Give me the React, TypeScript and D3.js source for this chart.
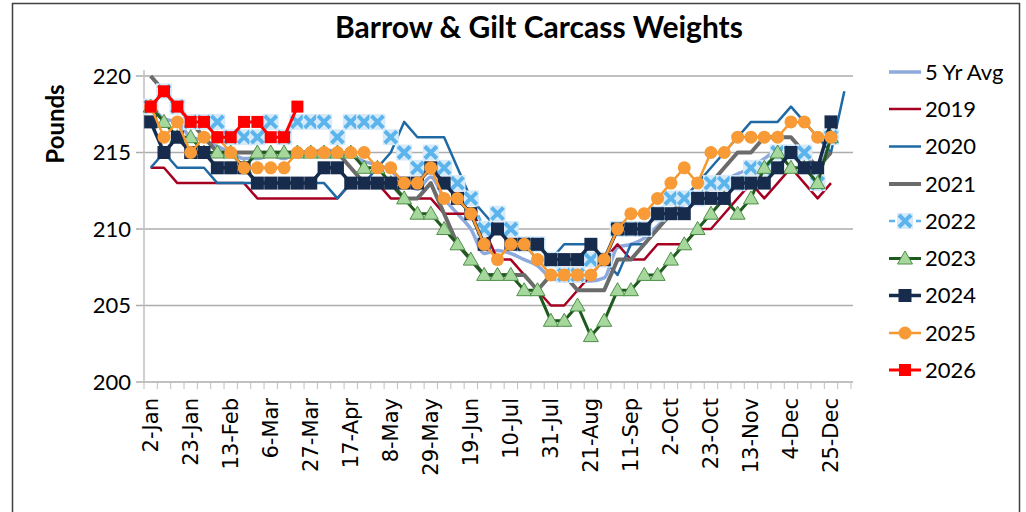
import React from 'react';
import * as d3 from 'd3';

// weekly categories, 53 weeks (2020 has a 53rd week); labels every 3rd week
const weekCount = 53;
const tickLabels = ['2-Jan', '23-Jan', '13-Feb', '6-Mar', '27-Mar', '17-Apr', '8-May', '29-May', '19-Jun',
  '10-Jul', '31-Jul', '21-Aug', '11-Sep', '2-Oct', '23-Oct', '13-Nov', '4-Dec', '25-Dec'];
const yTicks = [200, 205, 210, 215, 220];

const avg5 = [218.2, 217.2, 217.0, 216.0, 215.8, 215.4, 215.0, 214.6, 214.6, 214.8, 214.6, 215.0, 215.0, 215.2,
  215.0, 214.8, 214.4, 214.2, 213.8, 213.0, 212.6, 213.4, 212.0, 211.0, 210.0, 208.4, 208.6, 208.4, 208.0, 207.6,
  206.8, 206.6, 206.6, 206.6, 206.8, 208.8, 209.0, 209.4, 210.2, 211.0, 211.6, 211.8, 212.8, 213.2, 213.6, 214.0,
  214.6, 215.2, 215.4, 215.0, 214.0, 216.0];
const y2019 = [214, 214, 213, 213, 213, 213, 213, 213, 212, 212, 212, 212, 212, 212, 212, 213, 213, 213, 212, 212,
  212, 212, 211, 211, 211, 210, 208, 208, 207, 206, 205, 205, 206, 207, 208, 209, 208, 208, 209, 209, 209, 210, 210,
  211, 212, 213, 212, 213, 214, 213, 212, 213];
const y2020 = [214, 215, 214, 214, 214, 213, 213, 213, 213, 213, 213, 213, 213, 213, 212, 213, 213, 214, 215, 217,
  216, 216, 216, 214, 212, 211, 210, 209, 209, 208, 208, 209, 209, 209, 208, 207, 209, 209, 210, 211, 212, 213, 214,
  215, 216, 217, 217, 217, 218, 217, 216, 215, 219];
const y2021 = [220, 219, 218, 217, 216, 215, 215, 215, 215, 215, 215, 215, 215, 215, 215, 214, 213, 213, 213, 212,
  212, 213, 211, 209, 208, 207, 207, 207, 207, 206, 207, 207, 206, 206, 206, 208, 208, 209, 210, 211, 212, 212, 213,
  214, 215, 215, 216, 216, 216, 215, 214, 215];
const y2022 = [218, 219, 218, 217, 217, 217, 216, 216, 216, 217, 216, 217, 217, 217, 216, 217, 217, 217, 216, 215,
  214, 215, 214, 213, 212, 210, 211, 210, 209, 209, 208, 207, 207, 208, 208, 210, 210, 210, 211, 212, 212, 212, 213,
  213, 213, 214, 214, 215, 215, 215, 213, 216];
const y2023 = [218, 217, 216, 216, 215, 215, 215, 214, 215, 215, 215, 215, 215, 215, 215, 215, 214, 214, 213, 212,
  211, 211, 210, 209, 208, 207, 207, 207, 206, 206, 204, 204, 205, 203, 204, 206, 206, 207, 207, 208, 209, 210, 211,
  212, 211, 212, 214, 215, 214, 214, 213, 216];
const y2024 = [217, 215, 216, 215, 215, 214, 214, 214, 213, 213, 213, 213, 213, 214, 214, 213, 213, 213, 213, 213,
  213, 214, 213, 212, 211, 209, 210, 209, 209, 209, 208, 208, 208, 209, 208, 210, 210, 210, 211, 211, 211, 212, 212,
  212, 213, 213, 213, 214, 215, 214, 214, 217];
const y2025 = [218, 216, 217, 215, 216, 216, 215, 214, 214, 214, 214, 215, 215, 215, 215, 215, 215, 214, 214, 213,
  213, 214, 212, 212, 211, 209, 208, 209, 209, 208, 207, 207, 207, 207, 208, 210, 211, 211, 212, 213, 214, 213, 215,
  215, 216, 216, 216, 216, 217, 217, 216, 216];
const y2026 = [218, 219, 218, 217, 217, 216, 216, 217, 217, 216, 216, 218];

type Marker = 'none' | 'x' | 'tri' | 'square' | 'circle' | 'redsq';

const series: { name: string; values: number[]; color: string; width: number; marker: Marker; dash?: string; smooth?: boolean }[] = [
  { name: '5 Yr Avg', values: avg5, color: '#8EA9DB', width: 3.5, marker: 'none', smooth: true },
  { name: '2019', values: y2019, color: '#A50021', width: 2.5, marker: 'none' },
  { name: '2020', values: y2020, color: '#1F6AA5', width: 2.5, marker: 'none' },
  { name: '2021', values: y2021, color: '#6B6B6B', width: 4, marker: 'none' },
  { name: '2022', values: y2022, color: '#5BB4EC', width: 2.5, marker: 'x', dash: '6,3' },
  { name: '2023', values: y2023, color: '#1E5A1E', width: 3, marker: 'tri' },
  { name: '2024', values: y2024, color: '#172B4D', width: 3.5, marker: 'square' },
  { name: '2025', values: y2025, color: '#F7982F', width: 2.5, marker: 'circle' },
  { name: '2026', values: y2026, color: '#FF0000', width: 3, marker: 'redsq' },
];

const W = 1026;
const H = 512;
const plot = { left: 144, right: 851, top: 76, bottom: 382 };

const x = d3.scaleBand<number>().domain(d3.range(weekCount)).range([plot.left, plot.right]).padding(0);
const cx = (i: number) => (x(i) as number) + x.bandwidth() / 2;
const y = d3.scaleLinear().domain([200, 220]).range([plot.bottom, plot.top]);

const drawMarker = (m: Marker, px: number, py: number, key: string | number) => {
  switch (m) {
    case 'x':
      return (
        <g key={key} transform={`translate(${px},${py})`}>
          <rect x={-8} y={-8} width={16} height={16} fill="#D6EAF9" />
          <path d="M-6,-6L6,6M-6,6L6,-6" stroke="#5BB4EC" strokeWidth={4} />
        </g>
      );
    case 'tri':
      return <path key={key} d={`M${px},${py - 7.5}L${px + 7.5},${py + 5.5}L${px - 7.5},${py + 5.5}Z`} fill="#A6D89E" stroke="#4E8F47" strokeWidth={1} />;
    case 'square':
      return <rect key={key} x={px - 6.5} y={py - 6.5} width={13} height={13} fill="#172B4D" />;
    case 'circle':
      return <circle key={key} cx={px} cy={py} r={6.5} fill="#F89A35" />;
    case 'redsq':
      return <rect key={key} x={px - 6} y={py - 6} width={12} height={12} fill="#FF0000" />;
    default:
      return null;
  }
};

const legendRows = [72, 109, 146.5, 184, 221, 258.5, 295.5, 333, 370];

export default function App() {
  return (
    <svg width={W} height={H} style={{ position: 'absolute', left: 0, top: 0, background: '#fff' }}>
      {/* chart border */}
      <path d={`M12.5,${H}V3.5H1019.5V${H}`} fill="none" stroke="#404040" strokeWidth={1.5} />

      <text x={539} y={38} textAnchor="middle" fontFamily="Lato, sans-serif" fontWeight="bold" fontSize={30} fill="#000">
        Barrow &amp; Gilt Carcass Weights
      </text>

      {/* grid + y axis */}
      {yTicks.map((t) => (
        <g key={t}>
          <line x1={plot.left - 8} x2={plot.right + 2} y1={y(t)} y2={y(t)} stroke="#ADADAD" strokeWidth={1.5} />
          <text x={131} y={y(t)} dy="0.36em" textAnchor="end" fontFamily="Lato, sans-serif" fontSize={22} fill="#000">
            {t}
          </text>
        </g>
      ))}
      <line x1={plot.left} x2={plot.left} y1={plot.top - 6} y2={plot.bottom} stroke="#BFBFBF" strokeWidth={1.5} />
      <text transform={`translate(64,124) rotate(-90)`} textAnchor="middle" fontFamily="Lato, sans-serif" fontWeight="bold" fontSize={24}>
        Pounds
      </text>

      {/* x axis ticks between categories */}
      {d3.range(weekCount + 1).map((i) => {
        const px = plot.left + i * x.step();
        return <line key={i} x1={px} x2={px} y1={plot.bottom} y2={plot.bottom + 7} stroke="#BFBFBF" strokeWidth={1} />;
      })}
      {tickLabels.map((lab, k) => (
        <text key={lab} transform={`translate(${cx(k * 3)},398) rotate(-90)`} textAnchor="end" dominantBaseline="central"
          fontFamily="'DejaVu Sans', sans-serif" fontSize={21} fill="#000">
          {lab}
        </text>
      ))}

      {/* series */}
      {series.map((s) => {
        const line = d3.line<number>().x((_, i) => cx(i)).y((v) => y(v));
        if (s.smooth) line.curve(d3.curveMonotoneX);
        return (
          <g key={s.name}>
            <path d={line(s.values) || ''} fill="none" stroke={s.color} strokeWidth={s.width}
              strokeDasharray={s.dash} strokeLinejoin="round" />
            {s.marker !== 'none' && s.values.map((v, i) => drawMarker(s.marker, cx(i), y(v), i))}
          </g>
        );
      })}

      {/* legend */}
      {series.map((s, k) => {
        const ly = legendRows[k];
        return (
          <g key={s.name}>
            <line x1={889} x2={921} y1={ly} y2={ly} stroke={s.color} strokeWidth={s.width} strokeDasharray={s.dash} />
            {drawMarker(s.marker, 905, ly, 'm')}
            <text x={925} y={ly} dy="0.36em" fontFamily="Lato, sans-serif" fontSize={22} fill="#000">
              {s.name}
            </text>
          </g>
        );
      })}
    </svg>
  );
}
